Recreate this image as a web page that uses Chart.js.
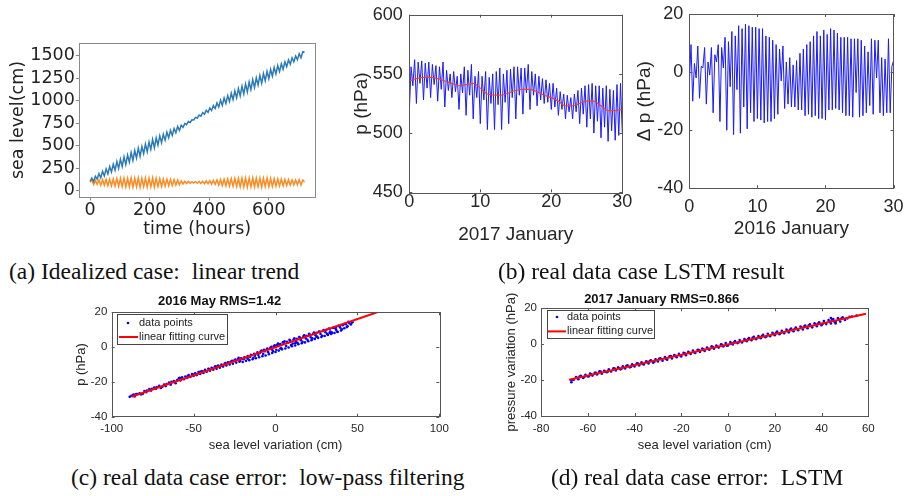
<!DOCTYPE html>
<html>
<head>
<meta charset="utf-8">
<script src="https://cdn.jsdelivr.net/npm/chart.js@4.4.1/dist/chart.umd.min.js"></script>
<style>
body { margin: 0; background: #fff; width: 913px; height: 496px; position: relative; overflow: hidden; }
canvas { position: absolute; }
.cap { position: absolute; font-family: "Liberation Serif", "Times New Roman", serif; font-size: 23.5px; line-height: 1; color: #111; white-space: pre; }
</style>
</head>
<body>
<canvas id="cA" width="330" height="250" style="left:0;top:0"></canvas>
<canvas id="cB1" width="310" height="245" style="left:330px;top:0"></canvas>
<canvas id="cB2" width="293" height="245" style="left:620px;top:0"></canvas>
<canvas id="cC" width="460" height="175" style="left:0;top:285px"></canvas>
<canvas id="cD" width="458" height="175" style="left:455px;top:285px"></canvas>
<div class="cap" style="left:9px;top:260px">(a) Idealized case:  linear trend</div>
<div class="cap" style="left:498px;top:260px">(b) real data case LSTM result</div>
<div class="cap" style="left:71px;top:466px">(c) real data case error:  low-pass filtering</div>
<div class="cap" style="left:551px;top:466px">(d) real data case error:  LSTM</div>
<script>
// ---- (a) idealized case, one value every 6 hours ----
var hourStep = 6;
var seaTrend = [105, 140, 102, 161, 128, 190, 143, 215, 165, 242, 187, 269, 208, 295, 229, 324, 248,
  350, 269, 376, 290, 397, 316, 425, 336, 447, 362, 473, 381, 491, 412, 519, 432, 541, 459, 570, 477, 587, 508, 609, 534,
  628, 562, 650, 589, 671, 615, 691, 643, 713, 670,
  727, 704, 746, 733, 768, 758, 788, 785, 814, 807, 840, 828, 866, 850, 892, 871, 919, 891, 946, 913,
  975, 929, 1004, 949, 1031, 969, 1056, 990, 1083, 1012,
  1110, 1032, 1136, 1054, 1162, 1075, 1186, 1097, 1208, 1124, 1235, 1146, 1255, 1174, 1281, 1194, 1301, 1222, 1327, 1244,
  1347, 1272, 1369, 1298, 1390, 1323, 1411, 1350, 1432, 1377, 1453, 1405, 1475, 1432, 1497, 1456, 1523, 1477, 1545, 1538];
var seaNoTrend = [95, 118, 68, 115, 70, 120, 62, 122, 60, 125, 58, 128, 55, 130, 52, 135, 48,
  138, 45, 140, 42, 137, 44, 141, 40, 139, 43, 142, 38, 136, 45, 140, 41, 138, 44, 143, 39, 137, 46, 135, 48,
  130, 52, 128, 55, 125, 58, 122, 62, 120, 65,
  110, 75, 105, 80, 103, 82, 100, 85, 102, 83, 104, 80, 106, 78, 108, 76, 112, 72, 115, 70,
  120, 62, 125, 58, 128, 55, 130, 52, 133, 50,
  136, 46, 138, 44, 140, 42, 141, 40, 139, 43, 142, 41, 138, 45, 140, 42, 137, 46, 139, 44,
  135, 48, 133, 50, 130, 52, 128, 55, 125, 58, 122, 62, 120, 65, 118, 66, 121, 63, 119, 100];
var ticksAx = [0, 200, 400, 600];
var ticksAy = [0, 250, 500, 750, 1000, 1250, 1500];

// ---- (b) one value every 6 hours (0.25 day) ----
var dayStep = 0.25;
var pJan2017 = [518, 556, 540, 562, 525, 560, 542, 561, 528, 559, 538, 560, 530, 558, 541, 557,
  527, 556, 537, 560, 522, 553, 536, 550, 530, 552, 535, 548, 520, 550, 534, 556,
  515, 553, 532, 558, 512, 548, 530, 552, 508, 548, 528, 552, 503, 547, 525, 550,
  503, 552, 524, 555, 503, 550, 526, 553, 508, 554, 530, 556, 512, 556, 532, 555,
  516, 555, 534, 558, 520, 552, 532, 550, 523, 548, 528, 546, 525, 545, 526, 542,
  520, 542, 522, 538, 515, 535, 520, 533, 512, 532, 518, 530, 512, 533, 518, 536,
  508, 538, 516, 540, 505, 541, 512, 542, 500, 540, 510, 540, 496, 538, 505, 540,
  493, 537, 502, 536, 494, 541, 498, 542, 500];
// low-pass filtered, one value per day
var pJan2017Filtered = [544, 546, 547, 547, 546, 544, 542, 540, 541, 542, 538, 533, 532, 532, 534, 536,
  537, 537, 535, 532, 530, 527, 523, 523, 525, 527, 527, 523, 519, 519, 520];
var dpJan2016 = [-4, 9.5, -10, 3, -2, 9, -9, 2, 1.5, 8.5, -11, 3.5, -1, 8.5, -14, 6,
  3.5, 9.5, -17, 8.5, 1.5, 12, -20, 10.5, -5, 14, -21.5, 12.5, -6, 16, -21, 15,
  -12, 16.5, -19.5, 16, -14, 15.5, -17, 15.5, -16, 15, -16.5, 15, -17.5, 12.5, -17, 12,
  -17, 11, -16, 9.5, -14.5, 8, -3, 9, -12.5, 3.5, -11, 5, -12, 2.5, -12, 4,
  -13, 6.5, -13, 8, -15, 9.5, -14.5, 10.5, -15.5, 12.5, -15, 14, -16, 12.5, -16, 14.5,
  -16.5, 13, -13, 15, -13, 14.5, -12.5, 13.5, -13, 12, -14, 12, -15, 12, -15, 11.5,
  -15.5, 11.5, -7, 11.5, -15.5, 11, -15, 9, -14, 7, -11.5, 11.5, -14.5, 11, -2, 11,
  -14, 5, -15, 4.5, -14, 11.5, -14, 2, 4];
var ticksBx = [0, 10, 20, 30];
var ticksB1y = [450, 500, 550, 600];
var ticksB2y = [-40, -20, 0, 20];

// ---- (c) 2016 May: [sea level variation, p] ----
var ptsC = [[-88, -28.0], [-87, -27.5], [-86, -28.4], [-85, -27.0], [-83, -26.5], [-82, -27.2], [-80, -25.2], [-79, -25.9],
  [-77, -24.1], [-76, -25.0], [-74, -23.2], [-73, -24.0], [-71, -22.3], [-70, -23.5], [-68, -21.5], [-67, -22.4],
  [-65, -20.4], [-64, -21.6], [-62, -19.5], [-61, -20.8], [-59, -18.0], [-58, -19.2], [-57, -17.3], [-56, -18.5],
  [-55, -16.9], [-54, -17.8], [-53, -16.0], [-52, -17.2], [-51, -15.5], [-50, -16.6], [-49, -15.0], [-48, -16.1],
  [-47, -14.3], [-46, -15.4], [-45, -13.8], [-44, -14.9], [-43, -13.0], [-42, -14.2], [-41, -12.5], [-40, -13.6],
  [-39, -11.9], [-38, -13.0], [-37, -11.2], [-36, -12.5], [-35, -10.6], [-34, -11.8], [-33, -10.0], [-32, -11.2],
  [-31, -9.4], [-30, -10.6], [-29, -8.8], [-28, -10.0], [-27, -8.3], [-26, -9.6], [-25, -7.6], [-24, -8.9],
  [-23, -7.0], [-22, -8.4], [-21, -6.4], [-20, -8.6], [-19, -5.8], [-18, -7.9], [-17, -5.2], [-16, -7.5],
  [-15, -4.4], [-14, -7.0], [-13, -3.8], [-12, -6.4], [-11, -3.0], [-10, -5.8], [-9, -2.4], [-8, -5.2],
  [-7, -1.6], [-6, -4.8], [-5, -0.9], [-4, -4.1], [-3, -0.3], [-2, -3.4], [-1, 0.4], [0, -2.8],
  [1, 1.2], [2, -2.0], [3, 1.8], [4, -1.3], [5, 2.5], [6, -0.8], [7, 3.0], [8, -0.2], [9, 3.7], [10, 0.5],
  [11, 4.2], [12, 0.9], [13, 4.8], [14, 1.6], [15, 5.3], [16, 2.2], [17, 6.0], [18, 2.7], [19, 6.5], [20, 3.4],
  [21, 7.0], [22, 4.0], [23, 7.6], [24, 4.7], [25, 8.2], [26, 5.2], [27, 8.8], [28, 5.8], [29, 9.3], [30, 6.4],
  [31, 9.9], [32, 7.0], [33, 10.4], [34, 7.6], [35, 11.0], [36, 8.1], [37, 11.5], [38, 8.7], [39, 12.0], [40, 9.5],
  [41, 12.6], [42, 10.8], [43, 13.2], [44, 12.0], [45, 13.8], [46, 13.0], [47, 14.3],
  [-84.5, -27.0], [-78.5, -25.0], [-72.5, -23.0], [-66.5, -21.2], [-57.5, -18.4], [-48.5, -15.5], [-38.5, -12.2],
  [-27.5, -8.6], [-17.5, -5.9], [-8.5, -2.0], [-2.5, 0.2], [2.5, 1.5], [7.5, 2.5], [12.5, 3.0], [18.5, 5.0],
  [24.5, 6.8], [30.5, 8.5], [36.5, 10.8], [42.5, 13.4], [-12.5, -5.0], [-22.5, -6.2], [15.5, 4.0], [27.5, 7.5],
  [33.5, 9.0], [-5.5, -1.5], [4.5, 2.8], [10.5, 2.0], [21.5, 5.6], [39.5, 11.2], [44.5, 14.5],
  [-86.5, -27.2], [-81, -26.8], [-75.5, -24.0], [-69, -22.8], [-63.5, -19.9], [-60, -19.0], [-53.5, -16.6],
  [-46, -14.2], [-43.5, -13.9], [-36.5, -11.0], [-33.5, -10.9], [-30.5, -9.2], [-26.5, -7.9], [-24.5, -7.2],
  [-21.5, -7.8], [-19.5, -7.0], [-15.5, -5.6], [-13.5, -6.1], [-10.5, -4.6], [-9.5, -3.4], [-7.5, -4.0],
  [-6.5, -2.4], [-4.5, -2.9], [-3.5, -1.0], [-1.5, -2.4], [-0.5, 1.0], [0.5, -1.5], [1.5, 2.0], [3.5, -0.5],
  [5.5, 3.4], [6.5, 0.6], [8.5, 4.2], [9.5, 1.2], [11.5, 5.0], [13.5, 2.4], [14.5, 5.8], [16.5, 3.0], [17.5, 6.8],
  [19.5, 4.2], [20.5, 7.6], [22.5, 5.0], [23.5, 8.3], [25.5, 5.9], [26.5, 9.0], [28.5, 6.5], [29.5, 9.8],
  [31.5, 7.6], [32.5, 10.6], [34.5, 8.3], [35.5, 11.4], [37.5, 9.0], [38.5, 12.3], [40.5, 10.2], [41.5, 13.0],
  [43.5, 11.5], [46.5, 14.0], [-89, -28.6], [-58.5, -17.6], [-50.5, -15.7], [-40.5, -12.6], [-17, -6.6],
  [-2, -1.5], [3, -0.8], [12, 2.2], [25, 6.0], [33, 8.2], [37, 10.0]];
var fitCx = [-88, 62];
var fitCy = [-28.5, 20];
var ticksCx = [-100, -50, 0, 50, 100];

// ---- (d) 2017 January: [sea level variation, pressure variation] ----
var ptsD = [[-67, -21.2], [-67, -20.2], [-66, -19.8], [-65, -18.3], [-64, -19.5], [-63, -17.6], [-62, -18.8], [-61, -17.0],
  [-60, -18.0], [-59, -16.3], [-58, -17.5], [-57, -15.9], [-56, -16.9], [-55, -15.1], [-54, -16.4], [-53, -14.8],
  [-52, -15.6], [-51, -14.0], [-50, -15.2], [-49, -13.4], [-48, -14.6], [-47, -12.9], [-46, -14.0], [-45, -12.3],
  [-44, -13.5], [-43, -11.8], [-42, -12.9], [-41, -11.2], [-40, -12.4], [-39, -10.6], [-38, -11.8], [-37, -10.1],
  [-36, -11.3], [-35, -9.5], [-34, -10.7], [-33, -9.0], [-32, -10.3], [-31, -8.4], [-30, -9.6], [-29, -7.9],
  [-28, -9.2], [-27, -7.2], [-26, -8.6], [-25, -6.7], [-24, -7.9], [-23, -6.1], [-22, -7.3], [-21, -5.4],
  [-20, -6.8], [-19, -4.8], [-18, -6.1], [-17, -4.3], [-16, -5.5], [-15, -3.6], [-14, -4.9], [-13, -3.1],
  [-12, -4.3], [-11, -2.4], [-10, -3.8], [-9, -1.9], [-8, -3.1], [-7, -1.2], [-6, -2.5], [-5, -0.7],
  [-4, -1.9], [-3, 0.0], [-2, -1.3], [-1, 0.6], [0, -0.7], [1, 1.2], [2, -0.1], [3, 1.7], [4, 0.6], [5, 2.3],
  [6, 1.0], [7, 2.9], [8, 1.7], [9, 3.4], [10, 2.2], [11, 4.1], [12, 2.8], [13, 4.6], [14, 3.3], [15, 5.2],
  [16, 3.9], [17, 5.8], [18, 4.4], [19, 6.4], [20, 5.0], [21, 7.0], [22, 5.6], [23, 7.5], [24, 6.1], [25, 8.1],
  [26, 6.6], [27, 8.7], [28, 7.2], [29, 9.3], [30, 7.8], [31, 9.9], [32, 8.2], [33, 10.4], [34, 8.9], [35, 11.1],
  [36, 9.4], [37, 11.7], [38, 10.0], [39, 12.2], [40, 10.6], [41, 12.9], [42, 11.2], [43, 13.5], [44, 11.6], [45, 14.0],
  [46, 12.3], [47, 14.6], [48, 12.6], [49, 15.0], [51, 14.3], [53, 15.4], [55, 15.9],
  [-64.5, -18.8], [-58.5, -16.8], [-52.5, -15.2], [-46.5, -13.5], [-40.5, -11.7], [-34.5, -10.0], [-28.5, -8.3],
  [-22.5, -6.5], [-16.5, -4.8], [-10.5, -3.0], [-4.5, -1.3], [1.5, 0.4], [7.5, 2.2], [13.5, 3.9], [19.5, 5.7],
  [25.5, 7.4], [31.5, 9.1], [37.5, 10.9], [43.5, 12.6], [47.5, 13.8],
  [-66.5, -19.6], [-63.5, -18.0], [-61.5, -18.3], [-59.5, -17.8], [-56.5, -16.0], [-54.5, -15.3], [-51.5, -15.4],
  [-48.5, -13.6], [-45.5, -13.6], [-43.5, -12.2], [-41.5, -12.6], [-38.5, -10.8], [-36.5, -11.0], [-33.5, -9.4],
  [-31.5, -9.8], [-29.5, -8.1], [-26.5, -8.3], [-24.5, -6.6], [-20.5, -6.2], [-18.5, -5.0], [-14.5, -4.5],
  [-12.5, -3.2], [-8.5, -2.6], [-6.5, -1.6], [-2.5, -0.4], [-0.5, -0.9], [2.5, 0.9], [4.5, 1.0], [8.5, 2.8],
  [10.5, 3.5], [14.5, 4.5], [16.5, 4.4], [20.5, 6.3], [22.5, 6.2], [26.5, 8.0], [28.5, 8.5], [32.5, 9.9],
  [34.5, 10.4], [38.5, 11.5], [40.5, 11.4], [44.5, 13.6], [45.5, 12.5], [48.5, 14.3], [50, 13.5], [52, 15.2],
  [44, 14.6], [46, 11.6]];
var fitDx = [-68, 59];
var fitDy = [-19.8, 17];
var ticksDx = [-80, -60, -40, -20, 0, 20, 40, 60];
var ticksCDy = [-40, -20, 0, 20];

var SANS = '"Liberation Sans", Arial, Helvetica, sans-serif';
var DEJA = '"DejaVu Sans", sans-serif';

function series(vals, step) {
  return vals.map(function (v, i) { return { x: i * step, y: v }; });
}
function pairs(list) {
  return list.map(function (p) { return { x: p[0], y: p[1] }; });
}
function xy(xs, ys) {
  return xs.map(function (v, i) { return { x: v, y: ys[i] }; });
}

function axis(o) {
  return {
    type: 'linear', position: o.pos, min: o.min, max: o.max,
    afterBuildTicks: function (s) { s.ticks = o.ticks.map(function (v) { return { value: v }; }); },
    afterFit: function (s) { if (o.pos === 'left') s.width = o.size; else s.height = o.size; },
    grid: o.tickOut ? { display: true, drawOnChartArea: false, drawTicks: true, tickLength: o.tickOut, color: o.frame, lineWidth: 1 }
                    : { display: false, drawTicks: false },
    border: { display: false },
    ticks: {
      font: { family: o.family, size: o.tickSize, lineHeight: o.tickLH || 1 }, color: o.color,
      padding: o.tickPad, maxRotation: 0, autoSkip: false,
      callback: function (v) { return String(v); }
    },
    title: { display: true, text: o.title, color: o.color, padding: o.titlePad,
             font: { family: o.family, size: o.titleSize, lineHeight: 1 } }
  };
}

// box round the plot area, with MATLAB-style inward ticks on all four sides
var framePlugin = {
  id: 'frame',
  afterDatasetsDraw: function (chart, args, o) {
    var a = chart.chartArea, ctx = chart.ctx;
    ctx.save();
    ctx.strokeStyle = o.color;
    ctx.lineWidth = 1;
    ctx.strokeRect(Math.round(a.left) + 0.5, Math.round(a.top) + 0.5, Math.round(a.right - a.left), Math.round(a.bottom - a.top));
    if (o.inTicks) {
      var xs = chart.scales.x, ys = chart.scales.y;
      ctx.beginPath();
      xs.ticks.forEach(function (t) {
        var px = Math.round(xs.getPixelForValue(t.value)) + 0.5;
        ctx.moveTo(px, a.bottom); ctx.lineTo(px, a.bottom - o.inTicks);
        ctx.moveTo(px, a.top); ctx.lineTo(px, a.top + o.inTicks);
      });
      ys.ticks.forEach(function (t) {
        var py = Math.round(ys.getPixelForValue(t.value)) + 0.5;
        ctx.moveTo(a.left, py); ctx.lineTo(a.left + o.inTicks, py);
        ctx.moveTo(a.right, py); ctx.lineTo(a.right - o.inTicks, py);
      });
      ctx.stroke();
    }
    ctx.restore();
  }
};

// MATLAB style legend box in the upper left corner
var boxLegend = {
  id: 'boxLegend',
  afterDraw: function (chart, args, o) {
    if (!o.show) return;
    var a = chart.chartArea, ctx = chart.ctx;
    var x = Math.round(a.left + o.dx), y = Math.round(a.top + o.dy);
    var dsPts = chart.data.datasets[0], dsLine = chart.data.datasets[1];
    ctx.save();
    ctx.fillStyle = '#fff';
    ctx.fillRect(x, y, o.w, o.h);
    ctx.strokeStyle = '#444';
    ctx.lineWidth = 1;
    ctx.strokeRect(x + 0.5, y + 0.5, o.w, o.h);
    ctx.fillStyle = dsPts.backgroundColor;
    ctx.beginPath();
    ctx.arc(x + o.dotX, y + o.r1, 1.3, 0, 2 * Math.PI);
    ctx.fill();
    ctx.strokeStyle = dsLine.borderColor;
    ctx.lineWidth = 2;
    ctx.beginPath();
    ctx.moveTo(x + o.l0, y + o.r2);
    ctx.lineTo(x + o.l1, y + o.r2);
    ctx.stroke();
    ctx.font = o.font;
    ctx.fillStyle = '#222';
    ctx.textBaseline = 'middle';
    ctx.fillText(dsPts.label, x + o.tx, y + o.r1);
    ctx.fillText(dsLine.label, x + o.tx, y + o.r2);
    ctx.restore();
  }
};

Chart.register(framePlugin, boxLegend);

function baseOptions(pad, extraPlugins) {
  var plugins = { legend: { display: false }, tooltip: { enabled: false }, boxLegend: { show: false } };
  for (var k in extraPlugins) plugins[k] = extraPlugins[k];
  return { responsive: false, animation: false, devicePixelRatio: 1, layout: { padding: pad }, plugins: plugins };
}

// ---------- (a) ----------
var optA = baseOptions({ left: 0, top: 43, right: 15, bottom: 0 }, { frame: { color: '#8a8a8a' } });
optA.scales = {
  x: axis({ pos: 'bottom', min: -36, max: 755, ticks: ticksAx, size: 53, tickOut: 3.5, frame: '#8a8a8a',
            family: DEJA, tickSize: 17.5, titleSize: 17.5, color: '#222', tickPad: 1,
            title: 'time (hours)', titlePad: { bottom: 12 } }),
  y: axis({ pos: 'left', min: -70, max: 1641, ticks: ticksAy, size: 79.3, tickOut: 3.5, frame: '#8a8a8a',
            family: DEJA, tickSize: 17.5, titleSize: 17.5, color: '#222', tickPad: 1,
            title: 'sea level(cm)', titlePad: { top: 9.5 } })
};
new Chart(document.getElementById('cA'), {
  type: 'line',
  data: { datasets: [
    { data: series(seaTrend, hourStep), borderColor: '#2b7bba', borderWidth: 1.5, pointRadius: 0, tension: 0 },
    { data: series(seaNoTrend, hourStep), borderColor: '#ff8a1f', borderWidth: 1.5, pointRadius: 0, tension: 0 }
  ] },
  options: optA
});

// ---------- (b) left ----------
var optB1 = baseOptions({ left: 0, top: 8.3, right: 17.7, bottom: 0 }, { frame: { color: '#555', inTicks: 3 } });
optB1.scales = {
  x: axis({ pos: 'bottom', min: 0, max: 30, ticks: ticksBx, size: 245 - 192.3,
            family: SANS, tickSize: 18, titleSize: 19, color: '#262626', tickPad: 0.5,
            title: '2017 January', titlePad: { bottom: 0.5 } }),
  y: axis({ pos: 'left', min: 450, max: 600, ticks: ticksB1y, size: 79.3, tickLH: 0.9,
            family: SANS, tickSize: 18, titleSize: 19, color: '#262626', tickPad: 6.6,
            title: 'p (hPa)', titlePad: { top: 22.2 } })
};
new Chart(document.getElementById('cB1'), {
  type: 'line',
  data: { datasets: [
    { data: series(pJan2017Filtered, 1), borderColor: '#e4463a', borderWidth: 1.2, pointRadius: 0, cubicInterpolationMode: 'monotone' },
    { data: series(pJan2017, dayStep), borderColor: '#1a1aff', borderWidth: 1, pointRadius: 0, tension: 0 }
  ] },
  options: optB1
});

// ---------- (b) right ----------
var optB2 = baseOptions({ left: 0, top: 8.3, right: 12, bottom: 0 }, { frame: { color: '#555', inTicks: 3 } });
optB2.scales = {
  x: axis({ pos: 'bottom', min: 0, max: 30, ticks: ticksBx, size: 245 - 188.3,
            family: SANS, tickSize: 18, titleSize: 19, color: '#262626', tickPad: 9.4,
            title: '2016 January', titlePad: { bottom: 6.5 } }),
  y: axis({ pos: 'left', min: -40, max: 20, ticks: ticksB2y, size: 69.3, tickLH: 0.9,
            family: SANS, tickSize: 18, titleSize: 19, color: '#262626', tickPad: 6,
            title: '\u0394 p (hPa)', titlePad: { top: 15.5 } })
};
new Chart(document.getElementById('cB2'), {
  type: 'line',
  data: { datasets: [
    { data: series(dpJan2016, dayStep), borderColor: '#1a1aff', borderWidth: 1, pointRadius: 0, tension: 0 }
  ] },
  options: optB2
});

// ---------- (c) ----------
var optC = baseOptions({ left: 0, top: 0, right: 20.7, bottom: 0 }, {
  frame: { color: '#555', inTicks: 3 },
  title: { display: true, text: '2016 May RMS=1.42', color: '#111', padding: { top: 10.2, bottom: 4.1 },
           font: { family: SANS, size: 13, weight: 'bold', lineHeight: 1 } },
  boxLegend: { show: true, dx: 5, dy: 2, w: 110, h: 30, dotX: 11, r1: 9, r2: 23, l0: 2, l1: 21, tx: 22,
               font: '11px ' + SANS }
});
optC.scales = {
  x: axis({ pos: 'bottom', min: -100, max: 100, ticks: ticksCx, size: 175 - 131.7,
            family: SANS, tickSize: 11.5, titleSize: 13, color: '#262626', tickPad: 6.3,
            title: 'sea level variation (cm)', titlePad: { bottom: 8.5 } }),
  y: axis({ pos: 'left', min: -40, max: 20, ticks: ticksCDy, size: 111.7,
            family: SANS, tickSize: 11.5, titleSize: 13, color: '#262626', tickPad: 4.4,
            title: 'p (hPa)', titlePad: { top: 75.2 } })
};
new Chart(document.getElementById('cC'), {
  type: 'scatter',
  data: { datasets: [
    { label: 'data points', data: pairs(ptsC), backgroundColor: '#0000ff', pointRadius: 1.3, pointBorderWidth: 0, order: 2 },
    { label: 'linear fitting curve', type: 'line', data: xy(fitCx, fitCy), borderColor: '#ff0000', borderWidth: 2, pointRadius: 0, showLine: true, order: 1 }
  ] },
  options: optC
});

// ---------- (d) ----------
var optD = baseOptions({ left: 0, top: 0, right: 44.7, bottom: 0 }, {
  frame: { color: '#555', inTicks: 3 },
  title: { display: true, text: '2017 January RMS=0.866', color: '#111', padding: { top: 7.5, bottom: 2.8 },
           font: { family: SANS, size: 13, weight: 'bold', lineHeight: 1 } },
  boxLegend: { show: true, dx: 5.7, dy: 2, w: 107, h: 28, dotX: 10, r1: 7, r2: 21.4, l0: 1, l1: 19, tx: 20,
               font: '11px ' + SANS }
});
optD.scales = {
  x: axis({ pos: 'bottom', min: -80, max: 60, ticks: ticksDx, size: 175 - 131,
            family: SANS, tickSize: 11.5, titleSize: 13, color: '#262626', tickPad: 7,
            title: 'sea level variation (cm)', titlePad: { bottom: 7.8 } }),
  y: axis({ pos: 'left', min: -40, max: 20, ticks: ticksCDy, size: 86,
            family: SANS, tickSize: 11.5, titleSize: 13, color: '#262626', tickPad: 4,
            title: 'pressure variation (hPa)', titlePad: { top: 50.2 } })
};
new Chart(document.getElementById('cD'), {
  type: 'scatter',
  data: { datasets: [
    { label: 'data points', data: pairs(ptsD), backgroundColor: '#0000ff', pointRadius: 1.3, pointBorderWidth: 0, order: 2 },
    { label: 'linear fitting curve', type: 'line', data: xy(fitDx, fitDy), borderColor: '#ff0000', borderWidth: 2, pointRadius: 0, showLine: true, order: 1 }
  ] },
  options: optD
});
</script>
</body>
</html>
